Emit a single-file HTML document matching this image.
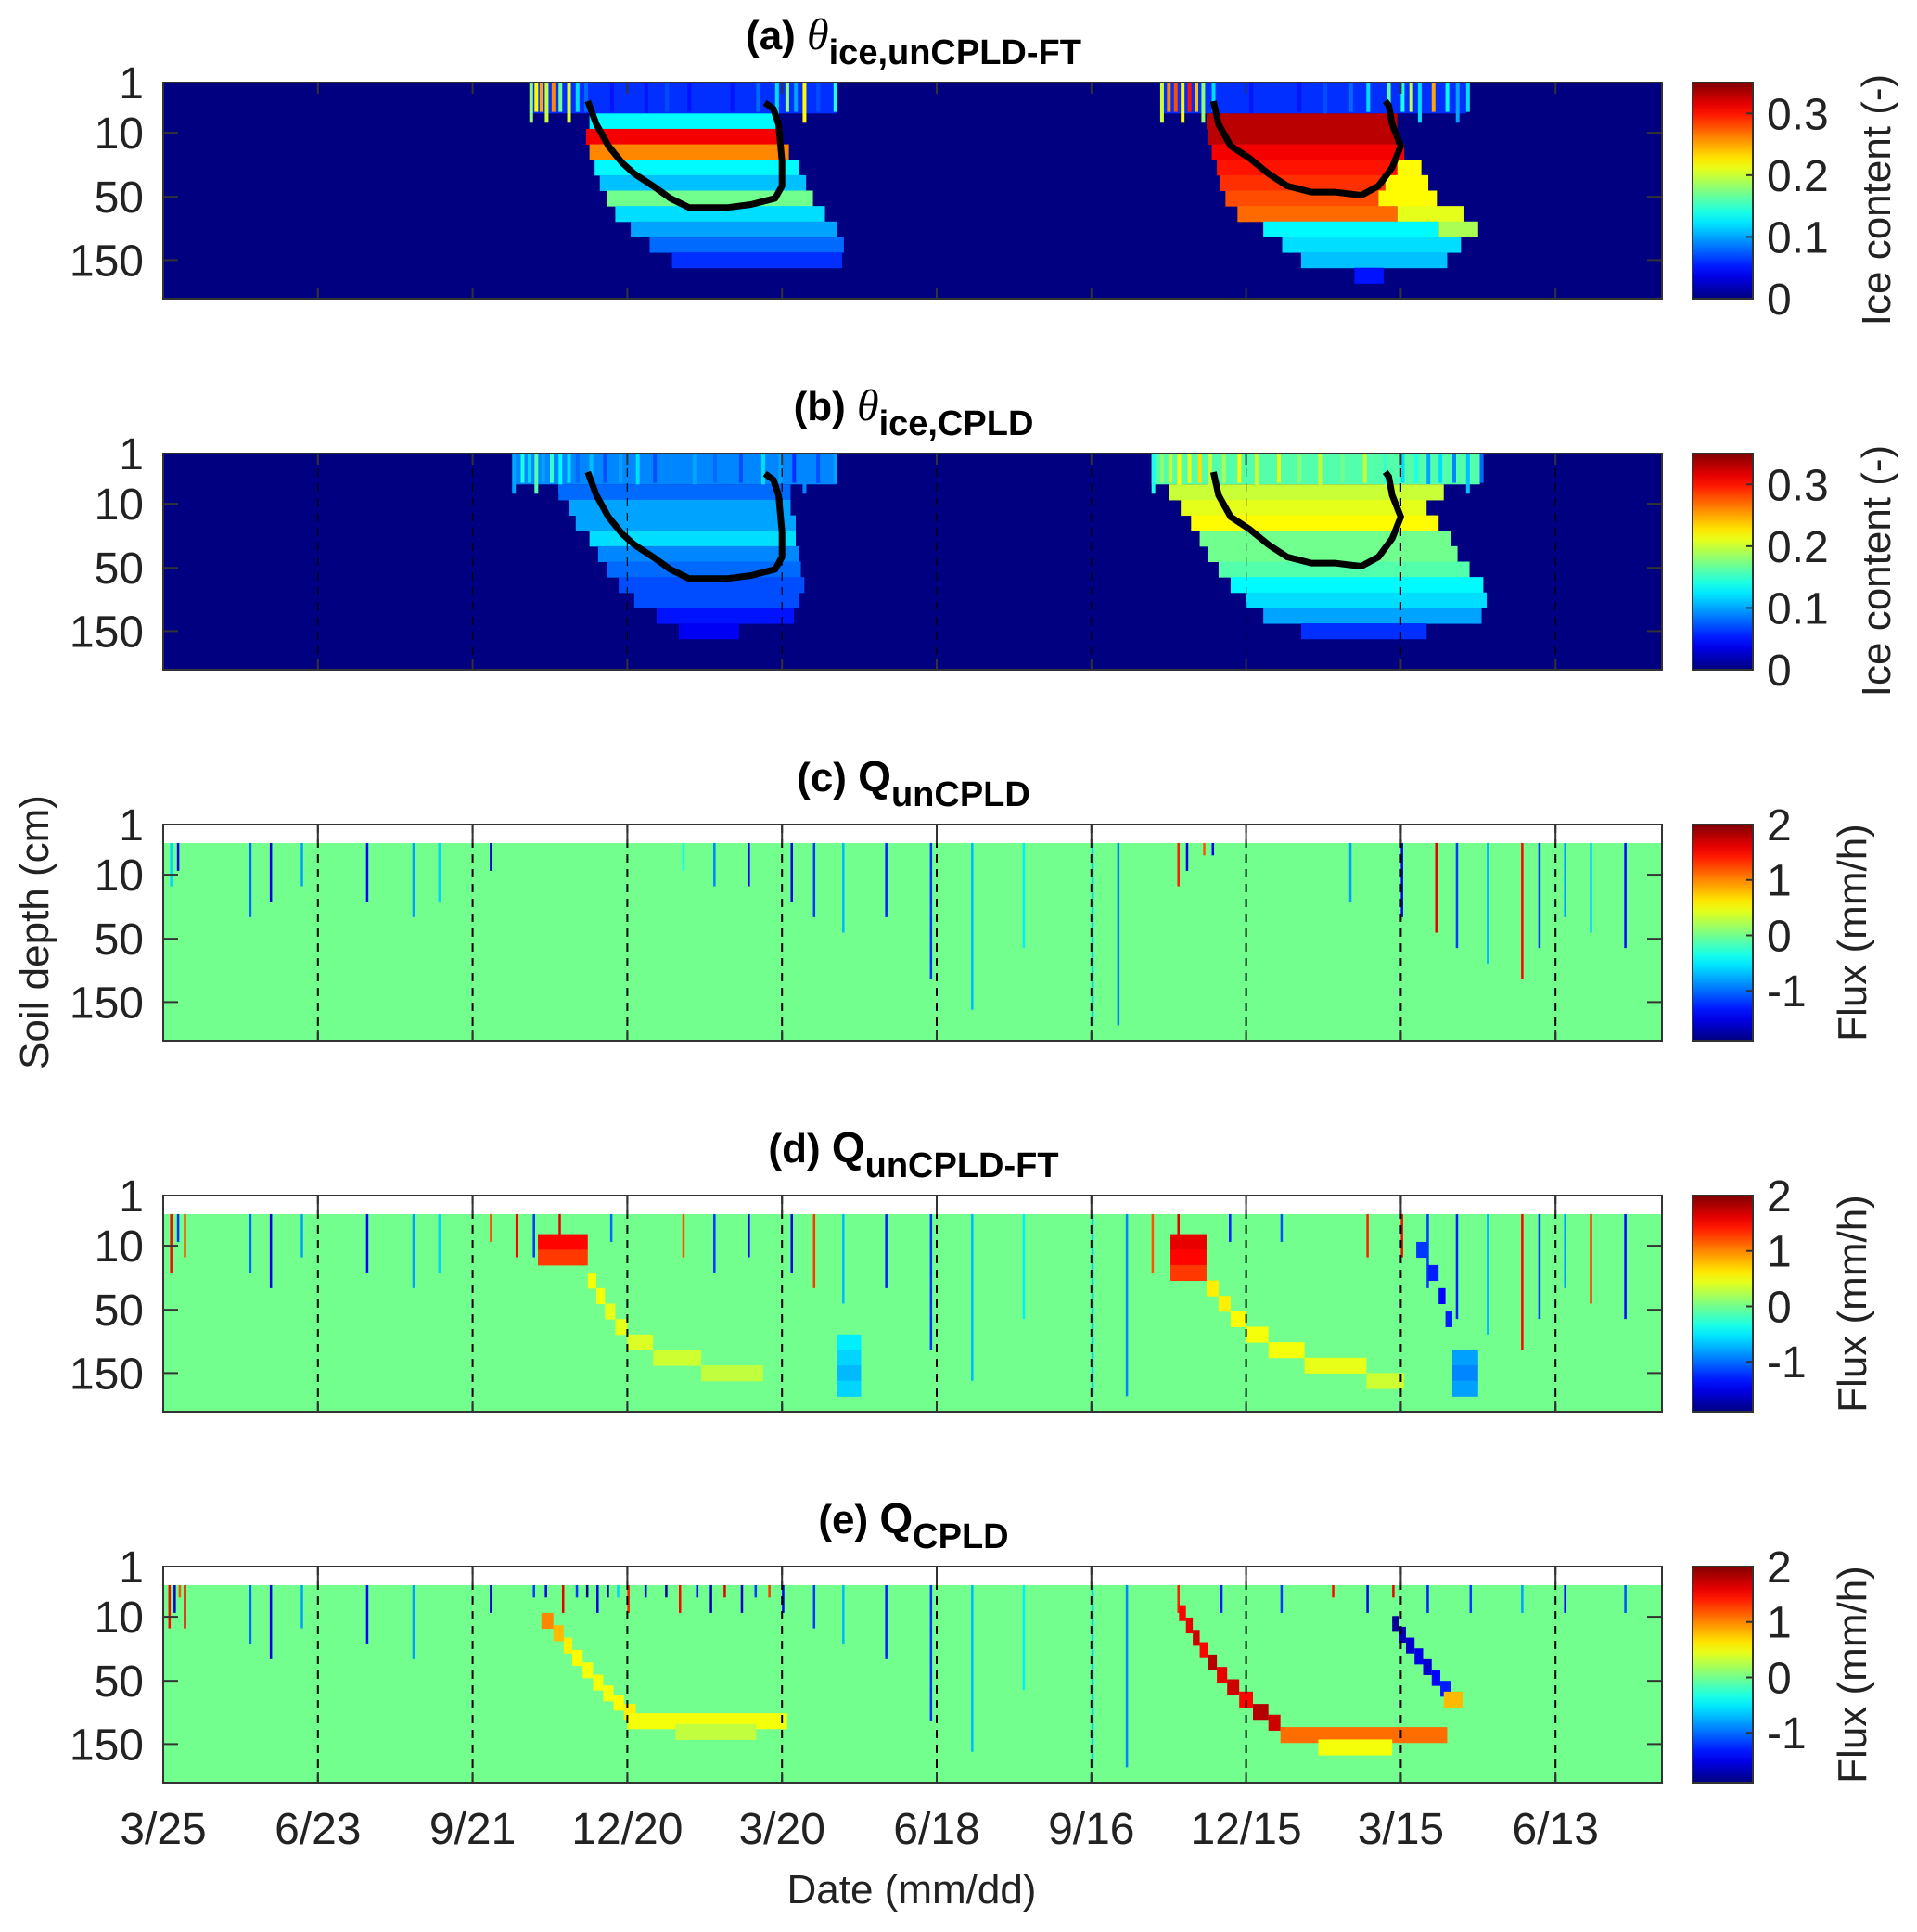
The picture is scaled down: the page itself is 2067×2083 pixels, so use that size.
<!DOCTYPE html>
<html><head><meta charset="utf-8"><style>
html,body{margin:0;padding:0;background:#fff;}
svg{display:block;font-family:"Liberation Sans",Arial,sans-serif;}
</style></head><body>
<svg id="fig" width="2067" height="2083" viewBox="0 0 2067 2083" xmlns="http://www.w3.org/2000/svg"></svg>
<script>
// ---- axis config ----
const X0=176, X1=1792, PXDAY=166.8/90, H=233, NROWS=14;
const panelTops=[89,489,889,1289,1689];
const dateTickDays=[0,90,180,270,360,450,540,630,720,810];
const dateTickLabels=["3/25","6/23","9/21","12/20","3/20","6/18","9/16","12/15","3/15","6/13"];
const depthTickLabels=["1","10","50","150"];
const depthTickRows=[0,3.25,7.4,11.5];
const iceTicks=[0,0.1,0.2,0.3];
const fluxTicks=[-1,0,1,2];

// ---- panel (a) ice unCPLD-FT: per-row segments [row, startDay, endDay, value] ----
const aRows=[2,3,4,5,6,7,8,9,10,11, 2,3,4,5,5,6,6,7,7,8,8,9,9,10,11,12];
const aStart=[248,246,248,251,254,258,263,272,283,296, 607,608,610,613,718,615,711,618,707,625,718,640,742,651,662,693];
const aEnd=[358,360,364,370,374,378,385,392,396,395, 718,717,722,727,732,711,736,707,741,718,757,742,765,755,747,710];
const aVal=[0.13,0.31,0.26,0.13,0.11,0.17,0.12,0.1,0.08,0.06, 0.33,0.33,0.31,0.3,0.22,0.29,0.22,0.28,0.22,0.27,0.21,0.13,0.19,0.12,0.11,0.05];
const aBaseStart=[213,580];
const aBaseEnd=[392,758];
const aBaseVal=[0.06,0.06];
const aSurfDays=[213,216,219,222,226,230,235,240,245,252,260,270,280,292,305,318,330,345,356,362,367,372,380,390, 580,584,588,592,596,600,604,610,620,632,645,660,675,690,700,712,720,725,730,738,746,752,758];
const aSurfVal=[0.18,0.22,0.25,0.2,0.26,0.17,0.21,0.12,0.08,0.06,0.05,0.06,0.05,0.07,0.05,0.06,0.05,0.08,0.12,0.18,0.1,0.22,0.07,0.14, 0.2,0.26,0.28,0.22,0.3,0.24,0.18,0.12,0.06,0.05,0.06,0.05,0.07,0.08,0.12,0.16,0.14,0.2,0.12,0.25,0.13,0.1,0.12];

// ---- panel (b) ice CPLD ----
const bRows=[2,3,4,5,6,7,8,9,10,11, 2,3,4,5,6,7,8,9,10,11];
const bStart=[230,236,240,248,253,258,265,274,287,300, 585,592,598,603,608,614,621,630,640,662];
const bEnd=[365,365,368,368,370,371,373,370,367,335, 745,735,742,749,753,760,768,770,767,735];
const bVal=[0.08,0.1,0.1,0.12,0.09,0.08,0.07,0.07,0.05,0.04, 0.2,0.21,0.22,0.17,0.17,0.16,0.13,0.12,0.1,0.06];
const bBaseStart=[205,575];
const bBaseEnd=[392,766];
const bBaseVal=[0.09,0.16];
const bSurfDays=[203,208,212,216,220,225,230,235,240,248,256,265,275,285,296,308,320,335,348,358,366,372,380,390, 575,580,585,590,596,602,608,616,625,635,648,660,672,685,698,710,720,728,735,742,750,758,766];
const bSurfVal=[0.1,0.14,0.12,0.16,0.1,0.15,0.13,0.12,0.08,0.11,0.07,0.1,0.12,0.07,0.09,0.1,0.08,0.07,0.12,0.1,0.06,0.09,0.07,0.1, 0.14,0.18,0.2,0.22,0.21,0.23,0.2,0.19,0.22,0.2,0.21,0.18,0.2,0.17,0.2,0.15,0.12,0.14,0.1,0.12,0.09,0.11,0.08];

// ---- freezing fronts (day, row) ----
const front1Days=[247,252,259,267,274,285,295,306,317,328,342,356,360,360,358,355,350];
const front1Rows=[1.2,2.7,4.1,5.2,5.9,6.7,7.5,8.1,8.1,8.1,7.9,7.5,6.7,5.1,2.7,1.7,1.3];
const front2Days=[611,614,621,632,643,654,668,682,697,707,715,720,715,713,711];
const front2Rows=[1.2,2.7,4.1,4.9,5.9,6.7,7.1,7.1,7.3,6.7,5.5,4.1,2.7,1.5,1.2];

// ---- flux streaks [day, rowBottom, value] ----
const cStreakDays=[4,8,50,62,80,118,145,160,190,302,320,340,365,378,395,420,446,470,500,540,555,590,595,605,610,690,720,740,752,770,790,800,815,830,850];
const cStreakBot=[4,3,6,5,4,5,6,5,3,3,4,4,5,6,7,6,10,12,8,13,13,4,3,2,2,5,6,7,8,9,10,8,6,7,8];
const cStreakVal=[-0.6,-1.5,-1,-1.5,-0.8,-1.4,-0.8,-0.6,-1.6,-0.4,-0.9,-1.4,-1.5,-1.2,-0.7,-1.3,-1.2,-0.7,-0.5,-0.6,-0.9,1.4,-1.5,1.2,-1.5,-0.8,-1.5,1.6,-1.2,-0.7,1.5,-1.2,-0.8,-0.6,-1.4];
const dStreakDays=[4,8,12,50,62,80,118,145,160,190,205,215,230,260,302,320,340,365,378,395,420,446,470,500,540,560,575,590,620,650,700,720,735,752,770,790,800,815,830,850];
const dStreakBot=[5,3,4,5,6,4,5,6,5,3,4,4,3,3,4,5,4,5,6,7,6,10,12,8,13,13,5,4,3,3,4,4,6,8,9,10,8,6,7,8];
const dStreakVal=[1.5,-1.2,1.2,-1,-1.5,-0.8,-1.4,-0.8,-0.6,1.2,1.5,-1.2,1.6,-1,1.2,-1.2,-1.4,-1.5,1.3,-0.7,-1.3,-1.2,-0.7,-0.5,-0.6,-0.9,1.2,1.6,-1.3,-1.1,1.4,1.5,-1.2,-1.3,-0.7,1.5,-1.2,-0.8,1.3,-1.4];
const eStreakDays=[3,6,9,12,50,62,80,118,145,190,215,222,232,240,246,252,258,264,270,280,292,300,310,318,326,336,344,352,360,378,395,420,446,470,500,540,560,590,615,650,680,700,715,735,760,790,815,850];
const eStreakBot=[4,3,2,4,5,6,4,5,6,3,2,2,3,2,2,3,2,2,3,2,2,3,2,3,2,3,2,2,3,4,5,6,10,12,8,13,13,3,3,3,2,3,2,3,3,3,3,3];
const eStreakVal=[1.5,-1.6,1.2,1.5,-1,-1.5,-0.8,-1.4,-0.8,-1.6,-1.2,-1.5,1.6,-1.2,-1.8,-1.5,-1.8,-0.6,1.4,-1.6,-1.8,1.5,-1.4,-1.7,1.6,-1.6,-1.2,1.3,-1.5,-1.2,-0.7,-1.3,-1.2,-0.7,-0.5,-0.6,-0.9,1.4,-1.3,-1.2,1.5,-1.5,1.6,-1.3,-1.2,-0.8,-1.4,-1.1];

// ---- flux front cells [row, startDay, endDay, value] ----
const dFrontRows=[2.5,3.5,5,6,7,8,9,10,11, 9,10,11,12, 2.5,3.5,4.5,5.5,6.5,7.5,8.5,9.5,10.5,11.5, 3,4.5,6,7.5,10,11,12];
const dFrontStart=[218,218,247,252,257,263,270,285,313, 392,392,392,392, 586,586,586,607,614,621,630,643,664,700, 729,736,742,746,750,750,750];
const dFrontEnd=[247,247,252,257,263,270,285,313,349, 406,406,406,406, 607,607,607,614,621,630,643,664,700,722, 736,742,746,750,765,765,765];
const dFrontVal=[1.5,1.3,0.5,0.5,0.45,0.45,0.4,0.35,0.3, -0.5,-0.6,-0.7,-0.6, 1.6,1.5,1.3,0.6,0.6,0.55,0.5,0.5,0.45,0.35, -1.2,-1.3,-1.4,-1.3,-0.8,-0.9,-0.8];
const eFrontRows=[3,3.8,4.6,5.4,6.2,7,7.7,8.3,8.9,9.5,10.2, 2.5,3.3,4.1,4.9,5.7,6.5,7.3,8.1,8.9,9.6,10.4,11.2, 3.2,3.9,4.6,5.3,6,6.7,7.4,8.1];
const eFrontStart=[220,227,233,238,244,250,256,262,268,270,298, 591,595,599,603,608,613,619,626,634,643,650,672, 715,719,723,728,733,738,743,745];
const eFrontEnd=[227,233,238,244,250,256,262,268,275,363,345, 595,599,603,608,613,619,626,634,643,650,747,715, 719,723,728,733,738,743,749,756];
const eFrontVal=[1.0,0.8,0.6,0.55,0.5,0.5,0.5,0.55,0.6,0.5,0.3, 1.5,1.6,1.7,1.5,1.8,1.6,1.7,1.5,1.8,1.7,1.1,0.5, -1.8,-1.7,-1.6,-1.5,-1.6,-1.4,-1.3,0.8];

// ---- helpers ----
const NS="http://www.w3.org/2000/svg";
const svg=document.getElementById('fig');
function xOf(d){return X0+d*PXDAY;}
function yOf(top,r){return top+r*H/NROWS;}
function clamp(v){return Math.max(0,Math.min(1,v));}
function jet(t){t=clamp(t);const r=clamp(1.5-Math.abs(4*t-3)),g=clamp(1.5-Math.abs(4*t-2)),b=clamp(1.5-Math.abs(4*t-1));
 return "rgb("+Math.round(r*255)+","+Math.round(g*255)+","+Math.round(b*255)+")";}
function iceC(v){return jet(v/0.35);}
function fluxC(v){return jet((v+1.9)/3.9);}
function mk(tag,attrs,parent){const e=document.createElementNS(NS,tag);for(const k in attrs)e.setAttribute(k,attrs[k]);(parent||svg).appendChild(e);return e;}

function segRects(g,top,rows,st,en,vals,cf,name){
 for(let i=0;i<rows.length;i++){
  const r=mk('rect',{x:xOf(st[i]),y:yOf(top,rows[i]),width:Math.max(1,xOf(en[i])-xOf(st[i])),height:H/NROWS+0.5,fill:cf(vals[i])},g);
  
  
 }
}
function surfBase(g,top,st,en,vals){
 for(let i=0;i<st.length;i++){
  const r=mk('rect',{x:xOf(st[i]),y:top,width:xOf(en[i])-xOf(st[i]),height:2*H/NROWS,fill:iceC(vals[i])},g);
  
  
 }
}
function surfStreaks(g,top,days,vals){
 for(let i=0;i<days.length;i++){
  const r=mk('rect',{x:xOf(days[i]),y:top,width:4,height:(i%3===0?2.6:1.9)*H/NROWS,fill:iceC(vals[i])},g);
  
  
 }
}
function fluxStreaks(g,top,days,bots,vals){
 for(let i=0;i<days.length;i++){
  const r=mk('rect',{x:xOf(days[i]),y:yOf(top,1.2),width:2.5,height:(bots[i]-1.2)*H/NROWS,fill:fluxC(vals[i])},g);
  
  
 }
}
function front(g,top,days,rows){
 const pts=days.map((d,i)=>xOf(d)+","+yOf(top,rows[i])).join(" ");
 const p=mk('polyline',{points:pts,fill:'none',stroke:'#000','stroke-width':7,'stroke-linejoin':'round'},g);
 
 
}
function txt(s,x,y,size,attrs,parent){const t=mk('text',Object.assign({x:x,y:y,'font-size':size,fill:'#222'},attrs||{}),parent);t.textContent=s;return t;}

// ---- panels ----
const titles=[["(a) ","θ","ice,unCPLD-FT"],["(b) ","θ","ice,CPLD"],["(c) ","Q","unCPLD"],["(d) ","Q","unCPLD-FT"],["(e) ","Q","CPLD"]];
const titleX=[985,985,985,985,985];
const names=['a','b','c','d','e'];
panelTops.forEach((top,pi)=>{
 const g=mk('g',{});
 
 
 const clipId='clip'+pi;
 const cp=mk('clipPath',{id:clipId},g);mk('rect',{x:X0,y:top,width:X1-X0,height:H},cp);
 const plot=mk('g',{'clip-path':'url(#'+clipId+')'},g);
 
 
 const isIce=pi<2;
 if(isIce){
  mk('rect',{x:X0,y:top,width:X1-X0,height:H,fill:iceC(0)},plot);
  if(pi===0){surfBase(plot,top,aBaseStart,aBaseEnd,aBaseVal);surfStreaks(plot,top,aSurfDays,aSurfVal);segRects(plot,top,aRows,aStart,aEnd,aVal,iceC,'ice-cell');}
  else{surfBase(plot,top,bBaseStart,bBaseEnd,bBaseVal);surfStreaks(plot,top,bSurfDays,bSurfVal);segRects(plot,top,bRows,bStart,bEnd,bVal,iceC,'ice-cell');}
  front(plot,top,front1Days,front1Rows);front(plot,top,front2Days,front2Rows);
 } else {
  mk('rect',{x:X0,y:yOf(top,1.2),width:X1-X0,height:H-yOf(top,1.2)+top,fill:fluxC(0)},plot);
  if(pi===2)fluxStreaks(plot,top,cStreakDays,cStreakBot,cStreakVal);
  if(pi===3){fluxStreaks(plot,top,dStreakDays,dStreakBot,dStreakVal);segRects(plot,top,dFrontRows,dFrontStart,dFrontEnd,dFrontVal,fluxC,'flux-front-cell');}
  if(pi===4){fluxStreaks(plot,top,eStreakDays,eStreakBot,eStreakVal);segRects(plot,top,eFrontRows,eFrontStart,eFrontEnd,eFrontVal,fluxC,'flux-front-cell');}
 }
 dateTickDays.forEach((d,i)=>{
  if(i===0)return;
  const x=xOf(d);
  if(pi>=1){mk('line',{x1:x,y1:top,x2:x,y2:top+H,stroke:'#000','stroke-width':pi===1?1.2:2,'stroke-dasharray':'9,7'},g);}
  mk('line',{x1:x,y1:top+H,x2:x,y2:top+H-12,stroke:'#333','stroke-width':2},g);
  mk('line',{x1:x,y1:top,x2:x,y2:top+(pi>=2?20:12),stroke:'#333','stroke-width':2},g);
 });
 depthTickRows.forEach((r,i)=>{
  const y=yOf(top,r);
  if(i>0){mk('line',{x1:X0,y1:y,x2:X0+16,y2:y,stroke:'#333','stroke-width':2},g);
   mk('line',{x1:X1,y1:y,x2:X1-16,y2:y,stroke:'#333','stroke-width':2},g);}
  const t=txt(depthTickLabels[i],155,y+17,48,{'text-anchor':'end'},g);
  
  
 });
 const fr=mk('rect',{x:X0,y:top,width:X1-X0,height:H,fill:'none',stroke:'#333','stroke-width':2},g);
 
 
 const tt=mk('text',{x:titleX[pi],y:top-36,'font-size':44,'font-weight':'bold','text-anchor':'middle',fill:'#000'},g);
 
 
 const s1=mk('tspan',{},tt);s1.textContent=titles[pi][0];
 const s2=mk('tspan',{'font-style':isIce?'italic':'normal','font-weight':isIce?'normal':'bold','font-family':isIce?'"Liberation Serif",serif':'inherit','font-size':isIce?48:46},tt);s2.textContent=titles[pi][1];
 const s3=mk('tspan',{dy:16,'font-size':38},tt);s3.textContent=titles[pi][2];
 const cbX=1825,cbW=65;
 const cb=mk('g',{});
 
 
 const gid='grad'+pi;
 const lg=mk('linearGradient',{id:gid,x1:0,y1:1,x2:0,y2:0},cb);
 for(let k=0;k<=20;k++){mk('stop',{offset:k/20,'stop-color':jet(k/20)},lg);}
 mk('rect',{x:cbX,y:top,width:cbW,height:H,fill:'url(#'+gid+')',stroke:'#333','stroke-width':2},cb);
 const ticks=isIce?iceTicks:fluxTicks;
 ticks.forEach(v=>{
  const f=isIce?v/0.35:(v+1.9)/3.9;
  const y=top+H-f*H;
  mk('line',{x1:cbX+cbW-7,y1:y,x2:cbX+cbW,y2:y,stroke:'#333','stroke-width':2},cb);
  const t=txt(String(v),1905,y+17,48,{},cb);
  
  
 });
 const lab=txt(isIce?'Ice content (-)':'Flux (mm/h)',0,0,44,{'text-anchor':'middle',transform:'translate('+(isIce?2038:2012)+','+(top+H/2+(isIce?10:0))+') rotate(-90)'},cb);
 
 
});
dateTickDays.forEach((d,i)=>{
 const t=txt(dateTickLabels[i],xOf(d),1988,48,{'text-anchor':'middle'});
 
 
});
const xl=txt('Date (mm/dd)',983,2052,44,{'text-anchor':'middle'});


const yl=txt('Soil depth (cm)',0,0,44,{'text-anchor':'middle',transform:'translate(52,1005) rotate(-90)'});


</script>
</body></html>
